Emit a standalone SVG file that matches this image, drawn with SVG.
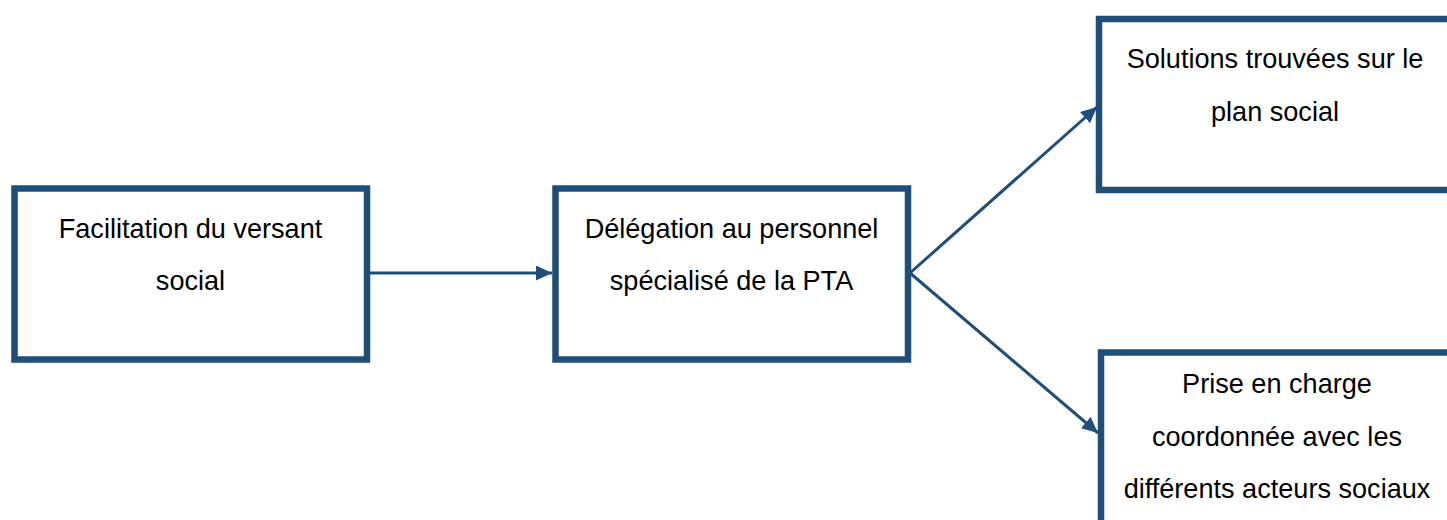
<svg xmlns="http://www.w3.org/2000/svg" width="1447" height="520" viewBox="0 0 1447 520">
<defs>
<marker id="arr" markerUnits="userSpaceOnUse" markerWidth="17" markerHeight="15" refX="16" refY="7.5" orient="auto">
<path d="M0,0 L16,7.5 L0,15 Z" fill="#1F4E79"/>
</marker>
<style>
.box{fill:#fff;stroke:#1F4E79;stroke-width:6.5}
.t{font-family:"Liberation Sans",Arial,sans-serif;font-size:27.1px;fill:#000;text-anchor:middle}
.c{stroke:#1F4E79;stroke-width:3;fill:none;marker-end:url(#arr)}
</style>
</defs>
<rect width="1447" height="520" fill="#fff"/>
<g id="connectors">
<line class="c" x1="370" y1="273" x2="552" y2="273"/>
<line class="c" x1="910" y1="273" x2="1097" y2="107"/>
<line class="c" x1="910" y1="273" x2="1098" y2="433"/>
</g>
<g id="n1">
<rect class="box" x="14.5" y="188.5" width="352.5" height="171"/>
<text class="t" x="190.5" y="238">Facilitation du versant</text>
<text class="t" x="190.5" y="290">social</text>
</g>
<g id="n2">
<rect class="box" x="555.5" y="188.5" width="352.5" height="171"/>
<text class="t" x="731.5" y="238">Délégation au personnel</text>
<text class="t" x="731.5" y="290">spécialisé de la PTA</text>
</g>
<g id="n3">
<rect class="box" x="1099" y="19" width="358" height="171"/>
<text class="t" x="1275" y="68">Solutions trouvées sur le</text>
<text class="t" x="1275" y="121">plan social</text>
</g>
<g id="n4">
<rect class="box" x="1101" y="352.5" width="358" height="200"/>
<text class="t" x="1277" y="393">Prise en charge</text>
<text class="t" x="1277" y="446">coordonnée avec les</text>
<text class="t" x="1277" y="498">différents acteurs sociaux</text>
</g>
</svg>
